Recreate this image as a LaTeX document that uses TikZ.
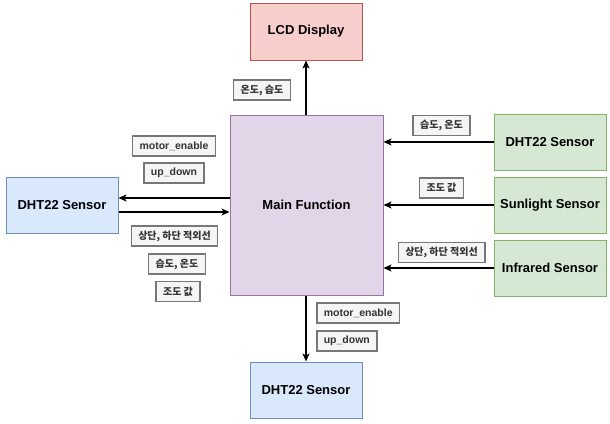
\documentclass[tikz,border=0pt]{standalone}
\usepackage{fontspec}
\setmainfont{Liberation Sans}
\newfontfamily\kr{Noto Sans CJK KR}
\usetikzlibrary{arrows.meta,positioning}

\definecolor{lcdfill}{HTML}{F8CECC}
\definecolor{lcdline}{HTML}{B85450}
\definecolor{mainfill}{HTML}{E1D5E7}
\definecolor{mainline}{HTML}{9673A6}
\definecolor{bluefill}{HTML}{DAE8FC}
\definecolor{blueline}{HTML}{6C8EBF}
\definecolor{greenfill}{HTML}{D5E8D4}
\definecolor{greenline}{HTML}{82B366}
\definecolor{tagfill}{HTML}{F5F5F5}
\definecolor{tagline}{HTML}{777777}
\definecolor{tagtext}{HTML}{333333}

\tikzset{
  block/.style={draw, line width=1pt, minimum width=112pt, minimum height=56pt,
    font=\fontsize{13}{15}\selectfont\bfseries},
  tag/.style={draw=tagline, fill=tagfill, text=tagtext, line width=1.5pt, minimum height=20pt,
    inner xsep=7pt, inner ysep=2pt, font=\kr\fontsize{10}{12}\selectfont\bfseries},
  tagen/.style={tag, font=\fontsize{10.5}{12}\selectfont\bfseries},
  link/.style={-{Stealth[length=8pt,width=7pt,inset=2pt]}, line width=1.8pt},
}

\begin{document}
\begin{tikzpicture}[x=1pt, y=-1pt]

    % Fix the page
    \useasboundingbox (0,0) rectangle (610,423);

    % Main block and the display
    \node[block, fill=mainfill, draw=mainline, minimum width=153pt, minimum height=180pt] (main) at (306.5,205) {Main Function};
    \node[block, fill=lcdfill, draw=lcdline, minimum height=57pt] (lcd) at (306,31.5) {LCD Display};

    % Left and bottom sensors
    \node[block, fill=bluefill, draw=blueline] (leftsens) at (62,205) {DHT22 Sensor};
    \node[block, fill=bluefill, draw=blueline] (botsens) at (306,390) {DHT22 Sensor};

    % Right sensors
    \node[block, fill=greenfill, draw=greenline] (dht) at (550,142) {DHT22 Sensor};
    \node[block, fill=greenfill, draw=greenline] (sun) at (550,205) {Sunlight Sensor};
    \node[block, fill=greenfill, draw=greenline] (ir) at (550,268) {Infrared Sensor};

    % Connectors
    \draw[link] (main.north -| lcd.south) -- (lcd.south);
    \draw[link] (main.south -| botsens.north) -- (botsens.north);
    \draw[link] ([yshift=-7pt]leftsens.east) -- ([yshift=-7pt]leftsens.east -| main.west);
    \draw[link] ([yshift=7pt]leftsens.east -| main.west) -- ([yshift=7pt]leftsens.east);
    \draw[link] (dht.west) -- (dht.west -| main.east);
    \draw[link] (sun.west) -- (sun.west -| main.east);
    \draw[link] (ir.west) -- (ir.west -| main.east);

    % Labels
    \node[tag] (t1) at (262,90) {온도, 습도};
    \node[tagen] (t2) at (174,146) {motor\_enable};
    \node[tagen] (t3) at (174,173) {up\_down};
    \node[tag] (t4) at (174.5,236) {상단, 하단 적외선};
    \node[tag] (t5) at (177,264) {습도, 온도};
    \node[tag] (t6) at (178,291.5) {조도 값};
    \node[tag] (t7) at (441.5,125.5) {습도, 온도};
    \node[tag] (t8) at (441.5,188) {조도 값};
    \node[tag] (t9) at (441.5,252.5) {상단, 하단 적외선};
    \node[tagen, anchor=west] (t10) at (316,313) {motor\_enable};
    \node[tagen, anchor=west] (t11) at (316,341) {up\_down};

\end{tikzpicture}
\end{document}
